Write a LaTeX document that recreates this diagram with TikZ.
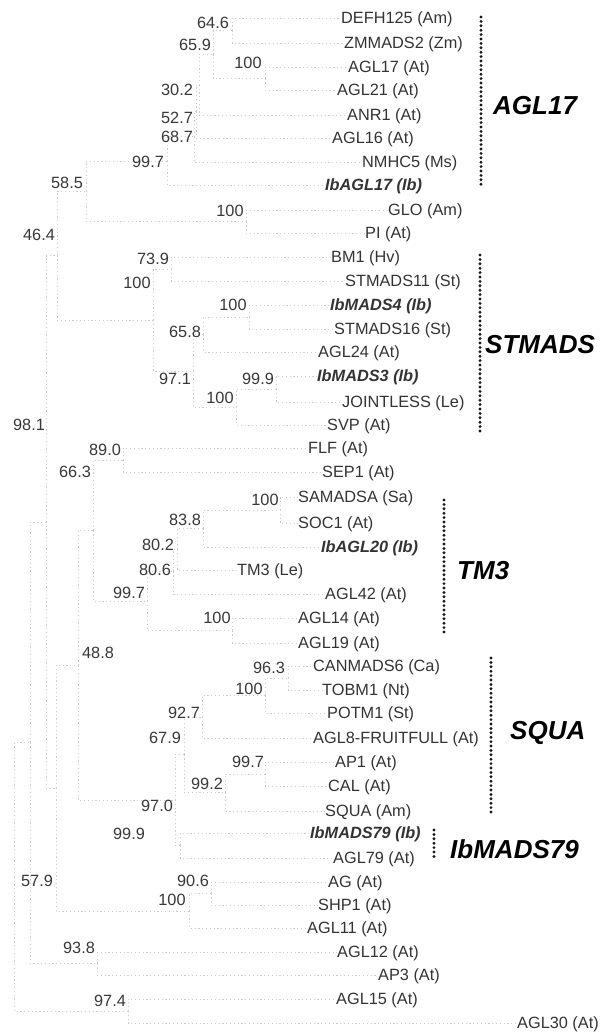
\documentclass[tikz,border=0pt]{standalone}
\usepackage{fontspec}
\setmainfont{Liberation Sans}
\usepackage{xcolor}
\usepackage{tikz}
\usetikzlibrary{positioning}

\begin{document}
\begin{tikzpicture}[
    x=1pt, y=-1pt,
    leaf/.style={anchor=west, inner sep=0pt, text=black!80, font=\fontsize{16.3}{18}\selectfont, text height=11.7pt, text depth=0pt},
    ibleaf/.style={leaf, font=\fontsize{16.3}{18}\selectfont\bfseries\itshape},
    boot/.style={inner sep=0pt, text=black!78, font=\fontsize{16.3}{18}\selectfont, text height=11.7pt, text depth=0pt},
    group/.style={anchor=west, inner sep=0pt, font=\fontsize{26}{28}\selectfont\bfseries\itshape, text height=18.6pt, text depth=0pt},
    branch/.style={draw=black!20, line width=0.6pt, dash pattern=on 1.2pt off 2.6pt},
    bracket/.style={draw=black!90, line width=3.2pt, dash pattern=on 0pt off 4.4pt, line cap=round},
]
\useasboundingbox (0,0) rectangle (613,1033);

% Leaves
\node[leaf] (defh) at (341,18) {DEFH125 (Am)};
\node[leaf] (zmm) at (344,43) {ZMMADS2 (Zm)};
\node[leaf] (agl17) at (348,67) {AGL17 (At)};
\node[leaf] (agl21) at (337,90) {AGL21 (At)};
\node[leaf] (anr1) at (347,115) {ANR1 (At)};
\node[leaf] (agl16) at (332,138) {AGL16 (At)};
\node[leaf] (nmhc) at (362,162) {NMHC5 (Ms)};
\node[ibleaf] (ibagl17) at (325,185) {IbAGL17 (Ib)};
\node[leaf] (glo) at (388,210) {GLO (Am)};
\node[leaf] (pi) at (365,233) {PI (At)};
\node[leaf] (bm1) at (331,257) {BM1 (Hv)};
\node[leaf] (stm11) at (345,281) {STMADS11 (St)};
\node[ibleaf] (ibm4) at (330,305) {IbMADS4 (Ib)};
\node[leaf] (stm16) at (334,329) {STMADS16 (St)};
\node[leaf] (agl24) at (318,352) {AGL24 (At)};
\node[ibleaf] (ibm3) at (317,376) {IbMADS3 (Ib)};
\node[leaf] (joint) at (342,402) {JOINTLESS (Le)};
\node[leaf] (svp) at (327,425) {SVP (At)};
\node[leaf] (flf) at (308,448) {FLF (At)};
\node[leaf] (sep1) at (322,472) {SEP1 (At)};
\node[leaf] (samadsa) at (298,497) {SAMADSA (Sa)};
\node[leaf] (soc1) at (298,523) {SOC1 (At)};
\node[ibleaf] (ibagl20) at (321,547) {IbAGL20 (Ib)};
\node[leaf] (tm3) at (237,570) {TM3 (Le)};
\node[leaf] (agl42) at (325,594) {AGL42 (At)};
\node[leaf] (agl14) at (298,618) {AGL14 (At)};
\node[leaf] (agl19) at (298,643) {AGL19 (At)};
\node[leaf] (canm) at (313,666) {CANMADS6 (Ca)};
\node[leaf] (tobm1) at (322,690) {TOBM1 (Nt)};
\node[leaf] (potm1) at (327,713) {POTM1 (St)};
\node[leaf] (agl8) at (313,738) {AGL8-FRUITFULL (At)};
\node[leaf] (ap1) at (335,762) {AP1 (At)};
\node[leaf] (cal) at (328,786) {CAL (At)};
\node[leaf] (squa) at (325,811) {SQUA (Am)};
\node[ibleaf] (ibm79) at (310,833) {IbMADS79 (Ib)};
\node[leaf] (agl79) at (333,858) {AGL79 (At)};
\node[leaf] (ag) at (328,882) {AG (At)};
\node[leaf] (shp1) at (318,905) {SHP1 (At)};
\node[leaf] (agl11) at (307,928) {AGL11 (At)};
\node[leaf] (agl12) at (337,952) {AGL12 (At)};
\node[leaf] (ap3) at (378,975) {AP3 (At)};
\node[leaf] (agl15) at (336,999) {AGL15 (At)};
\node[leaf] (agl30) at (517,1023) {AGL30 (At)};

% Internal nodes
\coordinate (a1) at (232,30.5);
\coordinate (a2) at (265,78.5);
\coordinate (a3) at (213,54.5);
\coordinate (a4) at (199,84.8);
\coordinate (a5) at (196,111.4);
\coordinate (a6) at (194,136.7);
\coordinate (a7) at (167,160.9);
\coordinate (a8) at (246,221.5);
\coordinate (a9) at (86,191.2);
\coordinate (b1) at (171,269);
\coordinate (b3) at (249,317);
\coordinate (b4) at (203,334.5);
\coordinate (b5) at (276,389);
\coordinate (b6) at (236,407);
\coordinate (b7) at (193,370.8);
\coordinate (b2) at (153,319.9);
\coordinate (r1) at (57,255.5);
\coordinate (c1) at (123,460);
\coordinate (d1) at (280,510);
\coordinate (d2) at (203,528.5);
\coordinate (d3) at (177,549.3);
\coordinate (d4) at (173,571.6);
\coordinate (d5) at (232,630.5);
\coordinate (d6) at (147,601);
\coordinate (r2) at (93,530.5);
\coordinate (e1) at (288,678);
\coordinate (e2) at (265,695.5);
\coordinate (e3) at (202,716.8);
\coordinate (e5) at (265,774);
\coordinate (e6) at (225,792.5);
\coordinate (e4) at (184,754.6);
\coordinate (f1) at (180,845.5);
\coordinate (e7) at (175,800);
\coordinate (g1) at (211,893.5);
\coordinate (g2) at (189,910.8);
\coordinate (r3) at (78,665.3);
\coordinate (r5) at (56,788);
\coordinate (r4) at (46,521.8);
\coordinate (h1) at (97,963.5);
\coordinate (h2) at (128,1011);
\coordinate (r6) at (30,742.6);
\coordinate (r7) at (14,876.8);

% Branches
\draw[branch] (a1) |- (defh) (a1) |- (zmm);
\draw[branch] (a2) |- (agl17) (a2) |- (agl21);
\draw[branch] (a3) |- (a1) (a3) |- (a2);
\draw[branch] (a4) |- (a3) (a4) |- (anr1);
\draw[branch] (a5) |- (a4) (a5) |- (agl16);
\draw[branch] (a6) |- (a5) (a6) |- (nmhc);
\draw[branch] (a7) |- (a6) (a7) |- (ibagl17);
\draw[branch] (a8) |- (glo) (a8) |- (pi);
\draw[branch] (a9) |- (a7) (a9) |- (a8);
\draw[branch] (b1) |- (bm1) (b1) |- (stm11);
\draw[branch] (b3) |- (ibm4) (b3) |- (stm16);
\draw[branch] (b4) |- (b3) (b4) |- (agl24);
\draw[branch] (b5) |- (ibm3) (b5) |- (joint);
\draw[branch] (b6) |- (b5) (b6) |- (svp);
\draw[branch] (b7) |- (b4) (b7) |- (b6);
\draw[branch] (b2) |- (b1) (b2) |- (b7);
\draw[branch] (r1) |- (a9) (r1) |- (b2);
\draw[branch] (c1) |- (flf) (c1) |- (sep1);
\draw[branch] (d1) |- (samadsa) (d1) |- (soc1);
\draw[branch] (d2) |- (d1) (d2) |- (ibagl20);
\draw[branch] (d3) |- (d2) (d3) |- (tm3);
\draw[branch] (d4) |- (d3) (d4) |- (agl42);
\draw[branch] (d5) |- (agl14) (d5) |- (agl19);
\draw[branch] (d6) |- (d4) (d6) |- (d5);
\draw[branch] (r2) |- (c1) (r2) |- (d6);
\draw[branch] (e1) |- (canm) (e1) |- (tobm1);
\draw[branch] (e2) |- (e1) (e2) |- (potm1);
\draw[branch] (e3) |- (e2) (e3) |- (agl8);
\draw[branch] (e5) |- (ap1) (e5) |- (cal);
\draw[branch] (e6) |- (e5) (e6) |- (squa);
\draw[branch] (e4) |- (e3) (e4) |- (e6);
\draw[branch] (f1) |- (ibm79) (f1) |- (agl79);
\draw[branch] (e7) |- (e4) (e7) |- (f1);
\draw[branch] (g1) |- (ag) (g1) |- (shp1);
\draw[branch] (g2) |- (g1) (g2) |- (agl11);
\draw[branch] (r3) |- (r2) (r3) |- (e7);
\draw[branch] (r5) |- (r3) (r5) |- (g2);
\draw[branch] (r4) |- (r1) (r4) |- (r5);
\draw[branch] (h1) |- (agl12) (h1) |- (ap3);
\draw[branch] (h2) |- (agl15) (h2) |- (agl30);
\draw[branch] (r6) |- (r4) (r6) |- (h1);
\draw[branch] (r7) |- (r6) (r7) |- (h2);

% Bootstrap values
\node[boot] (b646) at (213,23) {64.6};
\node[boot] (b659) at (195,45) {65.9};
\node[boot] (b100a) at (248,63) {100};
\node[boot] (b302) at (177,90) {30.2};
\node[boot] (b527) at (177,118) {52.7};
\node[boot] (b687) at (177,137) {68.7};
\node[boot] (b997a) at (148,162) {99.7};
\node[boot] (b585) at (67,183) {58.5};
\node[boot] (b100b) at (230,211) {100};
\node[boot] (b464) at (39,235) {46.4};
\node[boot] (b739) at (153,259) {73.9};
\node[boot] (b100c) at (137,283) {100};
\node[boot] (b100d) at (233,305) {100};
\node[boot] (b658) at (185,332) {65.8};
\node[boot] (b971) at (175,379) {97.1};
\node[boot] (b999a) at (258,379) {99.9};
\node[boot] (b100e) at (220,398) {100};
\node[boot] (b981) at (29,425) {98.1};
\node[boot] (b890) at (105,450) {89.0};
\node[boot] (b663) at (75,472) {66.3};
\node[boot] (b100f) at (265,500) {100};
\node[boot] (b838) at (185,520) {83.8};
\node[boot] (b802) at (158,545) {80.2};
\node[boot] (b806) at (155,570) {80.6};
\node[boot] (b997b) at (129,593) {99.7};
\node[boot] (b100g) at (217,618) {100};
\node[boot] (b488) at (98,653) {48.8};
\node[boot] (b963) at (269,668) {96.3};
\node[boot] (b100h) at (249,689) {100};
\node[boot] (b927) at (184,713) {92.7};
\node[boot] (b679) at (165,738) {67.9};
\node[boot] (b997c) at (248,762) {99.7};
\node[boot] (b992) at (207,784) {99.2};
\node[boot] (b970) at (157,806) {97.0};
\node[boot] (b999b) at (129,834) {99.9};
\node[boot] (b579) at (37,881) {57.9};
\node[boot] (b906) at (193,881) {90.6};
\node[boot] (b100i) at (172,900) {100};
\node[boot] (b938) at (79,948) {93.8};
\node[boot] (b974) at (110,1001) {97.4};

% Group brackets
\coordinate (k17t) at (481,17);
\coordinate (k17b) at (481,188);
\coordinate (k17m) at (481,105);
\draw[bracket] (k17t) -- (k17b);
\node[group, right=12pt of k17m] (gagl17) {AGL17};

\coordinate (kstt) at (480,255);
\coordinate (kstb) at (480,432);
\coordinate (kstm) at (480,344);
\draw[bracket] (kstt) -- (kstb);
\node[group, right=5pt of kstm] (gstmads) {STMADS};

\coordinate (ktmt) at (444,500);
\coordinate (ktmb) at (444,635);
\coordinate (ktmm) at (444,570);
\draw[bracket] (ktmt) -- (ktmb);
\node[group, right=13pt of ktmm] (gtm3) {TM3};

\coordinate (ksqt) at (491,658);
\coordinate (ksqb) at (491,813);
\coordinate (ksqm) at (491,730);
\draw[bracket] (ksqt) -- (ksqb);
\node[group, right=19pt of ksqm] (gsqua) {SQUA};

\coordinate (k79t) at (434,830);
\coordinate (k79b) at (434,860);
\coordinate (k79m) at (434,849);
\draw[bracket] (k79t) -- (k79b);
\node[group, right=16pt of k79m] (gibm79) {IbMADS79};

\end{tikzpicture}
\end{document}
